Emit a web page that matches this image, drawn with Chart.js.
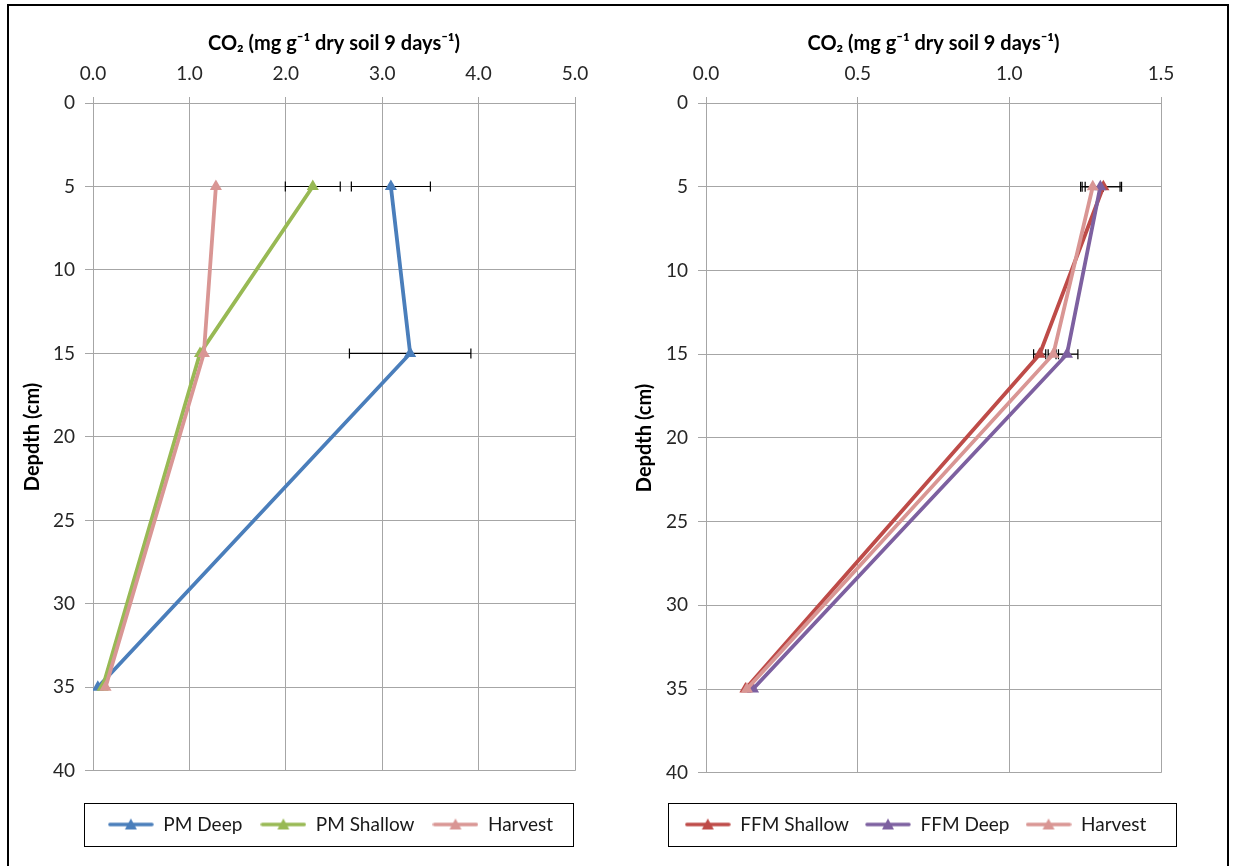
<!DOCTYPE html>
<html><head><meta charset="utf-8">
<script src="https://cdn.jsdelivr.net/npm/chart.js@4.4.0/dist/chart.umd.min.js"></script>
<style>
html,body{margin:0;padding:0;background:#fff;}
#wrap{position:relative;width:1233px;height:866px;overflow:hidden;background:#fff;}
#frame{position:absolute;left:7px;top:4px;width:1222px;height:900px;border:2px solid #000;box-sizing:border-box;}
#c1{position:absolute;left:0;top:0;}
#c2{position:absolute;left:616px;top:0;}
</style></head><body>
<div id="wrap">
<div id="frame"></div>
<canvas id="c1" width="616" height="866"></canvas>
<canvas id="c2" width="617" height="866"></canvas>
</div>
<script>
// ---- data ----
const depths = [5, 15, 35];
const xTitle = 'CO\u2082 (mg g\u207B\u00B9 dry soil 9 days\u207B\u00B9)';
const yTitle = 'Depdth (cm)';

const leftNames = ['PM Deep', 'PM Shallow', 'Harvest'];
const pmDeep = [3.09, 3.29, 0.05];
const pmDeepErr = [0.41, 0.63, 0];
const pmShallow = [2.28, 1.11, 0.10];
const pmShallowErr = [0.285, 0, 0];
const pmHarvest = [1.275, 1.15, 0.13];
const pmHarvestErr = [0, 0, 0];

const rightNames = ['FFM Shallow', 'FFM Deep', 'Harvest'];
const ffmShallow = [1.31, 1.10, 0.13];
const ffmShallowErr = [0.06, 0.02, 0];
const ffmDeep = [1.30, 1.19, 0.155];
const ffmDeepErr = [0.065, 0.036, 0];
const ffmHarvest = [1.275, 1.145, 0.135];
const ffmHarvestErr = [0.035, 0.017, 0];

const leftTicksX = {min: 0, max: 5, step: 1, digits: 1};
const rightTicksX = {min: 0, max: 1.5, step: 0.5, digits: 1};
const yTicks = {min: 0, max: 40, step: 5};

const leftColors = ['#4A7EBB', '#98B954', '#D99694'];
const rightColors = ['#BE4B48', '#7D60A0', '#D99694'];

const FONT = 'Lato, "Open Sans", sans-serif';

function legendIcon(color) {
  const c = document.createElement('canvas');
  c.width = 46; c.height = 14;
  const g = c.getContext('2d');
  g.strokeStyle = color; g.lineWidth = 3.5; g.lineCap = 'round';
  g.beginPath(); g.moveTo(2, 7); g.lineTo(44, 7); g.stroke();
  g.fillStyle = color;
  g.beginPath(); g.moveTo(23, 1); g.lineTo(29, 12); g.lineTo(17, 12); g.closePath(); g.fill();
  return c;
}

const errorBars = {
  id: 'errorBars',
  beforeDatasetsDraw(chart) {
    const ctx = chart.ctx;
    const xs = chart.scales.x, ys = chart.scales.y;
    ctx.save();
    ctx.strokeStyle = '#000'; ctx.lineWidth = 1.2;
    chart.data.datasets.forEach(ds => {
      (ds.err || []).forEach((e, i) => {
        if (!e) return;
        const p = ds.data[i];
        const x1 = xs.getPixelForValue(p.x - e), x2 = xs.getPixelForValue(p.x + e);
        const y = ys.getPixelForValue(p.y);
        ctx.beginPath();
        ctx.moveTo(x1, y); ctx.lineTo(x2, y);
        ctx.moveTo(x1, y - 5); ctx.lineTo(x1, y + 5);
        ctx.moveTo(x2, y - 5); ctx.lineTo(x2, y + 5);
        ctx.stroke();
      });
    });
    ctx.restore();
  }
};

const legendBox = {
  id: 'legendBox',
  afterLayout(chart, args, opts) {
    const lg = chart.legend;
    if (lg) { lg.left += opts.dx; lg.right += opts.dx; }
  },
  afterDraw(chart, args, opts) {
    const hb = chart.legend.legendHitBoxes;
    if (!hb || !hb.length) return;
    let l = Infinity, r = -Infinity;
    hb.forEach(b => { l = Math.min(l, b.left); r = Math.max(r, b.left + b.width); });
    const cy = hb[0].top + hb[0].height / 2;
    const ctx = chart.ctx;
    ctx.save();
    ctx.strokeStyle = '#000'; ctx.lineWidth = 1;
    ctx.strokeRect(Math.round(l - opts.padL) + 0.5, Math.round(cy - 22) + 0.5, Math.round(r - l + opts.padL + opts.padR), 43);
    ctx.restore();
  }
};

function build(canvasId, names, series, errs, colors, xt, cfg) {
  const datasets = names.map((n, k) => ({
    label: n,
    data: depths.map((d, i) => ({x: series[k][i], y: d})),
    err: errs[k],
    borderColor: colors[k],
    backgroundColor: colors[k],
    borderWidth: 3.8,
    pointStyle: 'triangle',
    pointRadius: 7,
    pointBorderWidth: 0,
    pointHoverRadius: 7,
    tension: 0,
    order: names.length - k
  }));
  return new Chart(document.getElementById(canvasId), {
    type: 'line',
    data: {datasets},
    plugins: [errorBars, legendBox],
    options: {
      responsive: false,
      animation: false,
      events: [],
      layout: {padding: {left: 10, right: cfg.padR, top: 26, bottom: cfg.padB}},
      scales: {
        x: {
          type: 'linear', position: 'top',
          min: xt.min, max: xt.max,
          afterBuildTicks(s) { const t = []; for (let v = xt.min; v <= xt.max + 1e-9; v += xt.step) t.push({value: +v.toFixed(6)}); s.ticks = t; },
          afterFit(s) { s.height = 77; },
          ticks: {callback: v => Number(v).toFixed(xt.digits), color: '#262626', font: {family: FONT, size: 19}, padding: 12, maxRotation: 0, autoSkip: false},
          grid: {color: '#a6a6a6', lineWidth: 1, tickLength: 6, drawTicks: true},
          border: {color: '#a6a6a6'},
          title: {display: true, text: xTitle, color: '#000', font: {family: FONT, size: 20, weight: 'bold'}, padding: {top: 6, bottom: 0}}
        },
        y: {
          type: 'linear', reverse: true,
          min: yTicks.min, max: yTicks.max,
          afterBuildTicks(s) { const t = []; for (let v = yTicks.min; v <= yTicks.max; v += yTicks.step) t.push({value: v}); s.ticks = t; },
          afterFit(s) { s.width = cfg.yw; },
          ticks: {color: '#262626', font: {family: FONT, size: 19}, padding: 10},
          grid: {color: '#a6a6a6', lineWidth: 1, tickLength: 8},
          border: {color: '#a6a6a6'},
          title: {display: true, text: yTitle, color: '#000', font: {family: FONT, size: 20, weight: 'bold'}, padding: {top: cfg.ytp, bottom: 0}}
        }
      },
      plugins: {
        tooltip: {enabled: false},
        legendBox: {dx: cfg.dx, padL: cfg.lpL, padR: cfg.lpR},
        legend: {
          position: 'bottom',
          fullSize: true,
          title: {display: true, text: '', font: {size: 1}, padding: {top: 25, bottom: 0}},
          labels: {
            usePointStyle: true,
            pointStyleWidth: 46,
            boxHeight: 14,
            padding: cfg.lgPad,
            color: '#1a1a1a',
            font: {family: FONT, size: 19},
            sort: (a, b) => a.datasetIndex - b.datasetIndex,
            generateLabels(chart) {
              const items = Chart.defaults.plugins.legend.labels.generateLabels(chart);
              items.forEach(it => { it.pointStyle = legendIcon(chart.data.datasets[it.datasetIndex].borderColor); });
              return items;
            }
          }
        }
      }
    }
  });
}

build('c1', leftNames, [pmDeep, pmShallow, pmHarvest], [pmDeepErr, pmShallowErr, pmHarvestErr], leftColors, leftTicksX,
  {padR: 41, padB: 22, yw: 83, ytp: 11, dx: 38, lpL: 24, lpR: 20, lgPad: 18});
build('c2', rightNames, [ffmShallow, ffmDeep, ffmHarvest], [ffmShallowErr, ffmDeepErr, ffmHarvestErr], rightColors, rightTicksX,
  {padR: 72, padB: 22, yw: 80, ytp: 7, dx: 22, lpL: 17, lpR: 30, lgPad: 16});
</script>
</body></html>
